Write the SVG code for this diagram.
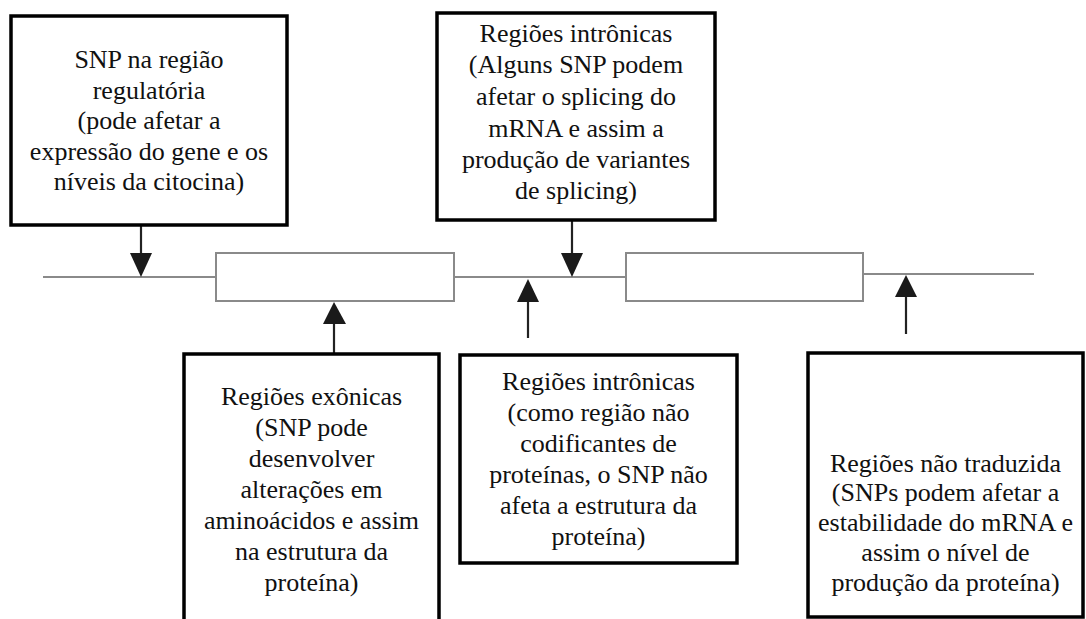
<svg xmlns="http://www.w3.org/2000/svg" width="1086" height="619" viewBox="0 0 1086 619">
<style>
.box{fill:#fff;stroke:#000;stroke-width:3.5}
.gene{fill:none;stroke:#8a8a8a;stroke-width:2}
.exon{fill:#fff;stroke:#8a8a8a;stroke-width:2}
.shaft{stroke:#222;stroke-width:2.2;fill:none}
.head{fill:#1a1a1a}
.t{font-size:26px;fill:#111;text-anchor:middle}
</style>
<rect width="1086" height="619" fill="#fff"/>
<g id="gene">
<line class="gene" x1="43" y1="277" x2="216" y2="277"/>
<line class="gene" x1="454" y1="277" x2="626" y2="277"/>
<line class="gene" x1="863" y1="274" x2="1034" y2="274"/>
<rect id="exon1" class="exon" x="216" y="253" width="238" height="48"/>
<rect id="exon2" class="exon" x="626" y="253" width="237" height="48"/>
</g>
<g id="connectors">
<line class="shaft" x1="141" y1="226" x2="141" y2="256"/>
<polygon class="head" points="130,253 152,253 141,277"/>
<line class="shaft" x1="572" y1="221" x2="572" y2="256"/>
<polygon class="head" points="561,253 583,253 572,277"/>
<line class="shaft" x1="334" y1="320" x2="334" y2="353"/>
<polygon class="head" points="323,324 346,324 334,302"/>
<line class="shaft" x1="528" y1="299" x2="528" y2="338"/>
<polygon class="head" points="517,302 539,302 528,279"/>
<line class="shaft" x1="906" y1="294" x2="906" y2="334"/>
<polygon class="head" points="895,297 917,297 906,275"/>
</g>
<g font-family="'Liberation Serif', 'DejaVu Serif', serif">
<g id="n1">
<rect class="box" x="11" y="16" width="276" height="209"/>
<text class="t" x="149" y="68">SNP na região</text>
<text class="t" x="149" y="98.5">regulatória</text>
<text class="t" x="149" y="129">(pode afetar a</text>
<text class="t" x="149" y="159.5">expressão do gene e os</text>
<text class="t" x="149" y="190">níveis da citocina)</text>
</g>
<g id="n2">
<rect class="box" x="437" y="13" width="278" height="207"/>
<text class="t" x="576" y="42">Regiões intrônicas</text>
<text class="t" x="576" y="73">(Alguns SNP podem</text>
<text class="t" x="576" y="105">afetar o splicing do</text>
<text class="t" x="576" y="136.5">mRNA e assim a</text>
<text class="t" x="576" y="168">produção de variantes</text>
<text class="t" x="576" y="199">de splicing)</text>
</g>
<g id="n3">
<rect class="box" x="184" y="354" width="255" height="290"/>
<text class="t" x="311.5" y="405">Regiões exônicas</text>
<text class="t" x="311.5" y="436">(SNP pode</text>
<text class="t" x="311.5" y="467">desenvolver</text>
<text class="t" x="311.5" y="498">alterações em</text>
<text class="t" x="311.5" y="529">aminoácidos e assim</text>
<text class="t" x="311.5" y="560">na estrutura da</text>
<text class="t" x="311.5" y="591">proteína)</text>
</g>
<g id="n4">
<rect class="box" x="460" y="355" width="277" height="208"/>
<text class="t" x="598.5" y="390">Regiões intrônicas</text>
<text class="t" x="598.5" y="421">(como região não</text>
<text class="t" x="598.5" y="452">codificantes de</text>
<text class="t" x="598.5" y="483">proteínas, o SNP não</text>
<text class="t" x="598.5" y="514">afeta a estrutura da</text>
<text class="t" x="598.5" y="545">proteína)</text>
</g>
<g id="n5">
<rect class="box" x="808" y="353" width="275" height="264"/>
<text class="t" x="945.5" y="472">Regiões não traduzida</text>
<text class="t" x="945.5" y="501">(SNPs podem afetar a</text>
<text class="t" x="945.5" y="531">estabilidade do mRNA e</text>
<text class="t" x="945.5" y="561">assim o nível de</text>
<text class="t" x="945.5" y="591">produção da proteína)</text>
</g>
</g>
</svg>
